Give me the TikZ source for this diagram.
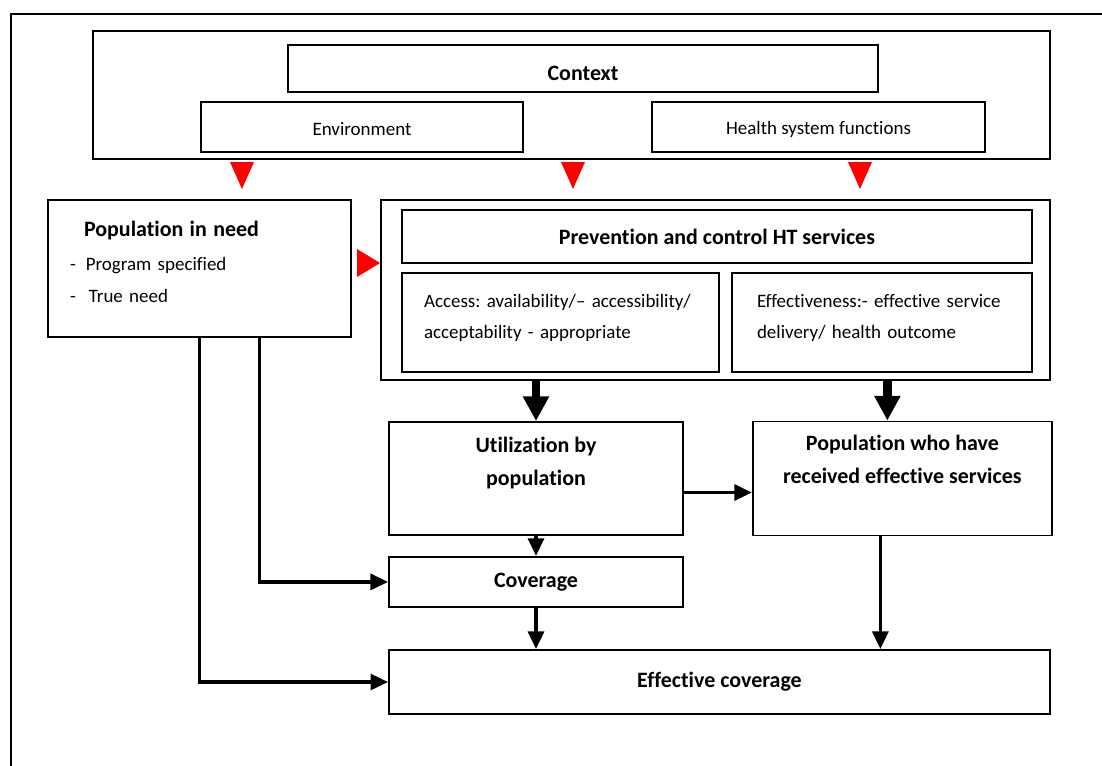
\documentclass[tikz,border=0pt]{standalone}
\usepackage{fontspec}
\setmainfont{Carlito}[Ligatures=NoCommon]
\usetikzlibrary{arrows.meta, positioning, calc}
\frenchspacing

\begin{document}
\begin{tikzpicture}[x=0.02cm, y=-0.02cm,
    box/.style={draw, line width=1.1pt, inner sep=0pt, align=center, font=\fontsize{10.8}{18}\selectfont},
    title/.style={box, font=\fontsize{12.5}{19}\selectfont\bfseries},
    arrow/.style={-{Triangle[length=10pt,width=9pt]}, line width=2pt},
    bigarrow/.style={-{Triangle[length=14pt,width=14pt]}, line width=5pt},
    flow/.style={fill=red}
]
    % page and outer frame
    \useasboundingbox (0,0) rectangle (1102,765);
    \draw[line width=1pt] (11,800) |- (1120,14);

    % context
    \node[box, minimum width=19.14cm, minimum height=2.56cm] (ctx) at (571.5,95) {};
    \node[title, minimum width=11.8cm, minimum height=0.94cm, text height=0.48cm] (ctxname) at (583,68.5) {Context};
    \node[box, minimum width=6.44cm, minimum height=1cm, text height=0.36cm] (env) at (362,127) {Environment};
    \node[box, minimum width=6.66cm, minimum height=1cm, text height=0.36cm] (hsf) at (818.5,127) {Health system functions};

    % population in need
    \node[box, align=left, text width=5.18cm, inner xsep=0.44cm, minimum height=2.74cm, text depth=1.58cm] (need) at (199.5,268.5)
        {\hspace*{0.28cm}{\fontsize{12.5}{19}\selectfont\bfseries Population in need}\\[1.5pt]
         -\hspace{0.2cm}Program specified\\
         -\hspace{0.26cm}True need};

    % services
    \node[box, minimum width=13.38cm, minimum height=3.6cm] (prev) at (715.5,290) {};
    \node[title, minimum width=12.6cm, minimum height=1.06cm] (prevname) at (717,236.5) {Prevention and control HT services};
    \node[box, align=left, text width=5.46cm, inner xsep=0.44cm, minimum height=1.98cm, text depth=0.88cm] (access) at (560.5,322.5)
        {Access: availability/-- accessibility/\\acceptability - appropriate};
    \node[box, align=left, text width=5.0cm, inner xsep=0.5cm, minimum height=1.98cm, text depth=0.88cm] (effect) at (882,322.5)
        {Effectiveness:- effective service\\delivery/ health outcome};

    % outcomes
    \node[title, minimum width=5.88cm, minimum height=2.26cm, text depth=0.68cm] (util) at (536,478.5) {Utilization by\\population};
    \node[title, minimum width=5.98cm, minimum height=2.28cm, text depth=0.78cm, right=1.36cm of util] (who) {Population who have\\received effective services};
    \node[title, minimum width=5.88cm, minimum height=1cm, below=0.4cm of util] (cov) {Coverage};
    \node[title, minimum width=13.22cm, minimum height=1.28cm] (effcov) at (719.5,682) {Effective coverage};

    % red flow marks
    \fill[flow] (230,162) -- (254,162) -- (242,189) -- cycle;
    \fill[flow] (561,162) -- (585,162) -- (573,189) -- cycle;
    \fill[flow] (848,162) -- (872,162) -- (860,189) -- cycle;
    \fill[flow] (357,249) -- (357,277) -- (380,263) -- cycle;

    % connectors
    \draw[bigarrow] (prev.south -| util.north) -- (util.north);
    \draw[bigarrow] ([xshift=-0.3cm]who.north |- prev.south) -- ([xshift=-0.3cm]who.north);
    \draw[arrow] ([yshift=-0.28cm]util.east) -- ([yshift=-0.28cm]util.east -| who.west);
    \draw[arrow] (util.south) -- (cov.north);
    \draw[arrow] (cov.south) -- (cov.south |- effcov.north);
    \draw[arrow] ([xshift=-0.44cm]who.south) -- ([xshift=-0.44cm]who.south |- effcov.north);
    \draw[arrow] ([xshift=1.2cm]need.south) |- (cov.west);
    \draw[arrow] (need.south) |- (effcov.west);
\end{tikzpicture}
\end{document}
